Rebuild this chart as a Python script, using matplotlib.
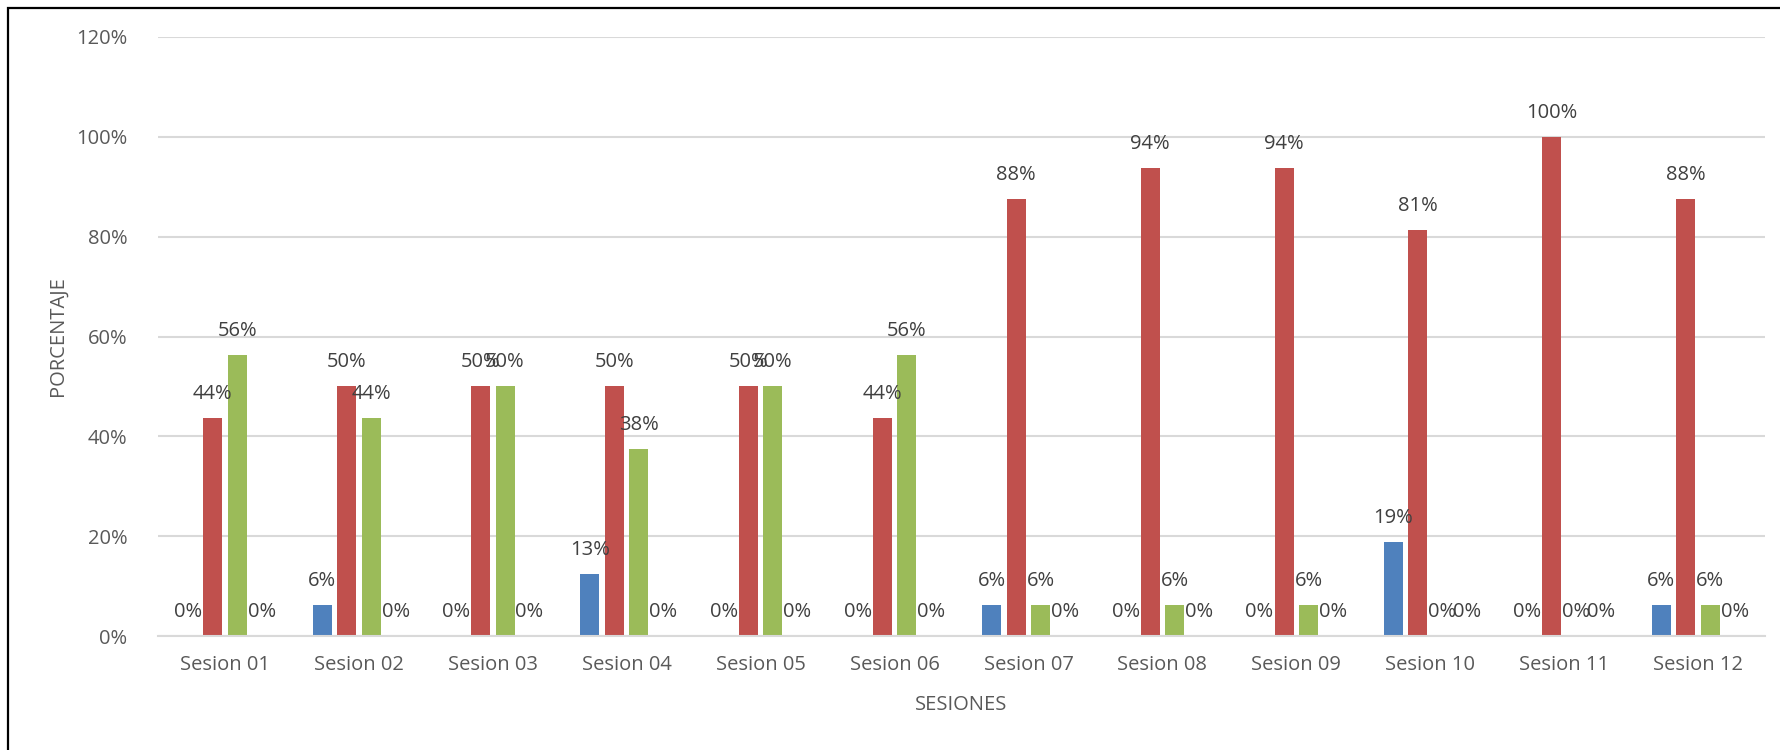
import numpy as np
import matplotlib.pyplot as plt
from matplotlib.patches import Rectangle

plt.rcParams['font.family'] = ['Open Sans', 'DejaVu Sans']

sesiones = ["Sesion 01", "Sesion 02", "Sesion 03", "Sesion 04", "Sesion 05", "Sesion 06",
            "Sesion 07", "Sesion 08", "Sesion 09", "Sesion 10", "Sesion 11", "Sesion 12"]
serie_azul  = [0, 6.25, 0, 12.5, 0, 0, 6.25, 0, 0, 18.75, 0, 6.25]
serie_roja  = [43.75, 50, 50, 50, 50, 43.75, 87.5, 93.75, 93.75, 81.25, 100, 87.5]
serie_verde = [56.25, 43.75, 50, 37.5, 50, 56.25, 6.25, 6.25, 6.25, 0, 0, 6.25]
serie_morada = [0, 0, 0, 0, 0, 0, 0, 0, 0, 0, 0, 0]
yticks = [0, 20, 40, 60, 80, 100, 120]

series = [serie_azul, serie_roja, serie_verde, serie_morada]
colors = ["#4F81BD", "#C0504D", "#9BBB59", "#8064A2"]

fig = plt.figure(figsize=(17.8, 7.5), dpi=100)
ax = fig.add_axes([158/1780, 114/750, (1765-158)/1780, (713-114)/750])

x = np.arange(len(sesiones))
step = 0.183
width = 0.142
for i, (vals, col) in enumerate(zip(series, colors)):
    pos = x + (i - 1.5) * step
    ax.bar(pos, vals, width=width, color=col, zorder=3)
    for xp, v in zip(pos, vals):
        # etiquetas redondeadas como en Excel (media hacia arriba)
        ax.annotate(f"{int(v + 0.5)}%", (xp, v), xytext=(0, 17.3),
                    textcoords="offset points", ha="center", va="center",
                    fontsize=14.5, color="#404040", zorder=4)

ax.set_xlim(-0.5, len(sesiones) - 0.5)
ax.set_ylim(0, 120)
ax.set_yticks(yticks)
ax.set_yticklabels([f"{t}%" for t in yticks])
ax.set_xticks(x)
ax.set_xticklabels(sesiones)
ax.tick_params(axis="both", length=0, labelsize=14.5, labelcolor="#595959")
ax.tick_params(axis="y", pad=22)
ax.tick_params(axis="x", pad=14)
ax.grid(axis="y", color="#D9D9D9", linewidth=1.5, zorder=0)
for s in ["top", "right", "left"]:
    ax.spines[s].set_visible(False)
ax.spines["bottom"].set_color("#D9D9D9")
ax.spines["bottom"].set_linewidth(1.5)
ax.spines["bottom"].set_zorder(3.5)

fig.text(58/1780, 1 - 336/750, "PORCENTAJE", rotation=90, ha="center", va="center",
         fontsize=14.5, color="#595959")
fig.text(961/1780, 1 - 705/750, "SESIONES", ha="center", va="center",
         fontsize=14.5, color="#595959")

fig.patches.append(Rectangle((8/1780, -0.1), 1.2, 1 - 8/750 + 0.1, transform=fig.transFigure,
                             fill=False, edgecolor="black", linewidth=1.6))

fig.savefig("out.png", dpi=100)
